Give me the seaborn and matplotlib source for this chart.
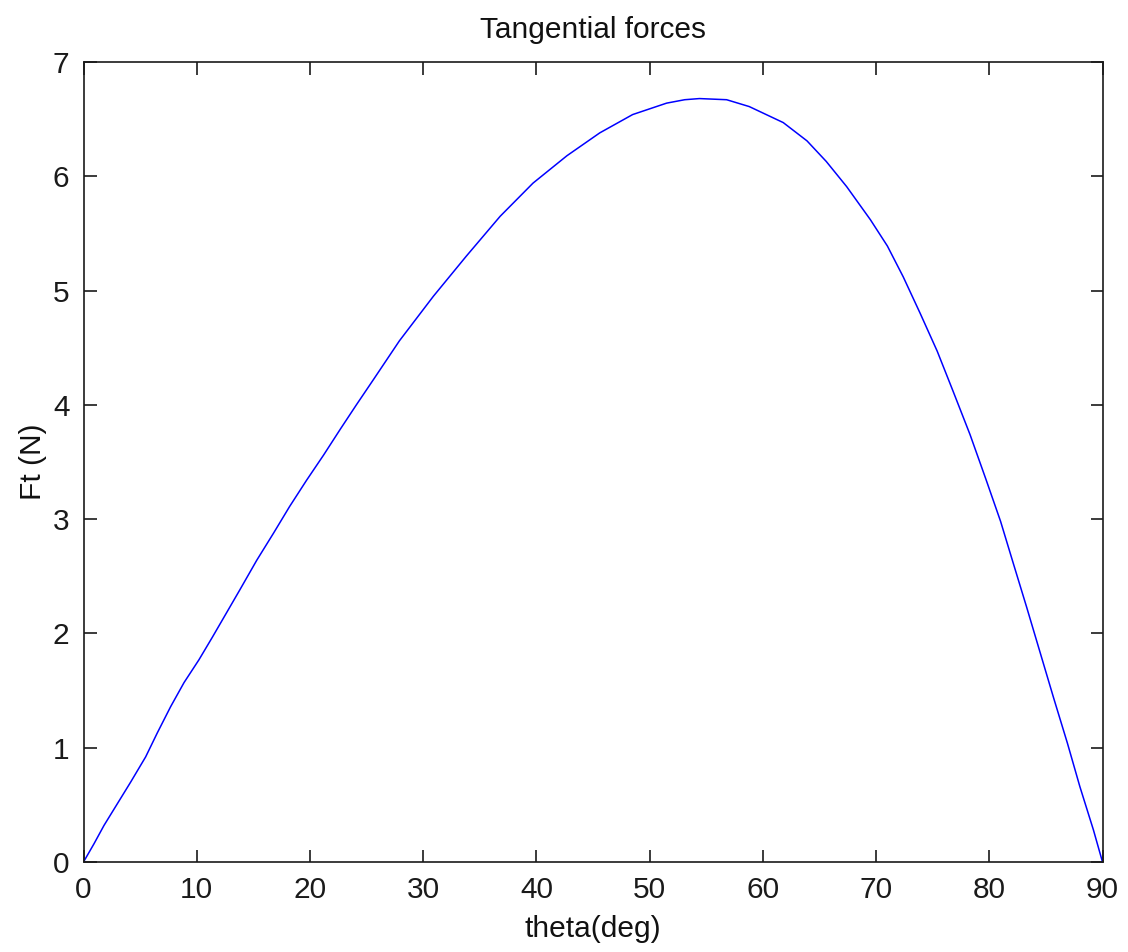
import matplotlib
matplotlib.use("Agg")
import matplotlib.pyplot as plt
import seaborn as sns
import pandas as pd

theta = [0, 0.93, 1.81, 2.99, 4.17, 5.49, 6.52, 7.70, 8.88, 10.2, 11.4, 13.8,
         15.3, 16.8, 18.2, 19.7, 21.2, 22.7, 24.1, 25.6, 27.9, 30.9, 33.8, 36.8,
         39.7, 42.7, 45.6, 48.5, 51.5, 53.1, 54.4, 56.8, 58.8, 61.8, 63.9, 65.6,
         67.4, 69.5, 71.0, 72.4, 73.9, 75.4, 76.8, 78.3, 79.7, 81.0, 82.1, 83.3,
         84.5, 85.7, 86.9, 88.0, 89.2, 90]
ft = [0, 0.16, 0.32, 0.51, 0.70, 0.92, 1.13, 1.36, 1.57, 1.77, 1.97, 2.38,
      2.64, 2.88, 3.11, 3.34, 3.56, 3.79, 4.00, 4.22, 4.56, 4.95, 5.30, 5.65,
      5.94, 6.18, 6.38, 6.54, 6.64, 6.67, 6.68, 6.67, 6.61, 6.47, 6.31, 6.13,
      5.91, 5.62, 5.39, 5.12, 4.80, 4.47, 4.12, 3.74, 3.35, 2.98, 2.62, 2.23,
      1.83, 1.43, 1.04, 0.66, 0.28, 0]
xticks = [0, 10, 20, 30, 40, 50, 60, 70, 80, 90]
yticks = [0, 1, 2, 3, 4, 5, 6, 7]

sns.set_style("white")
plt.rcParams['font.family'] = ['Liberation Sans', 'DejaVu Sans']

df = pd.DataFrame({"theta": theta, "Ft": ft})

fig = plt.figure(figsize=(11.28, 9.52), dpi=100)
ax = fig.add_axes([83.5 / 1128, 90 / 952, 1019 / 1128, 800 / 952])
sns.lineplot(data=df, x="theta", y="Ft", color="#0000ff", linewidth=1.1, ax=ax)

ax.set_xlim(0, 90)
ax.set_ylim(0, 7)
ax.set_xticks(xticks)
ax.set_yticks(yticks)
fs = 21.5
ax.tick_params(direction="in", length=9, width=1.2, colors="#1a1a1a",
               top=True, right=True, bottom=True, left=True,
               labelsize=fs, pad=10)
for s in ax.spines.values():
    s.set_visible(True)
    s.set_linewidth(1.2)
    s.set_color("#1a1a1a")
ax.set_title("Tangential forces", fontsize=fs, pad=17, color="#111111")
ax.set_xlabel("theta(deg)", fontsize=fs, labelpad=8, color="#111111")
ax.set_ylabel("Ft (N)", fontsize=fs, labelpad=4, color="#111111")

fig.savefig("out.png", dpi=100, facecolor="white")
